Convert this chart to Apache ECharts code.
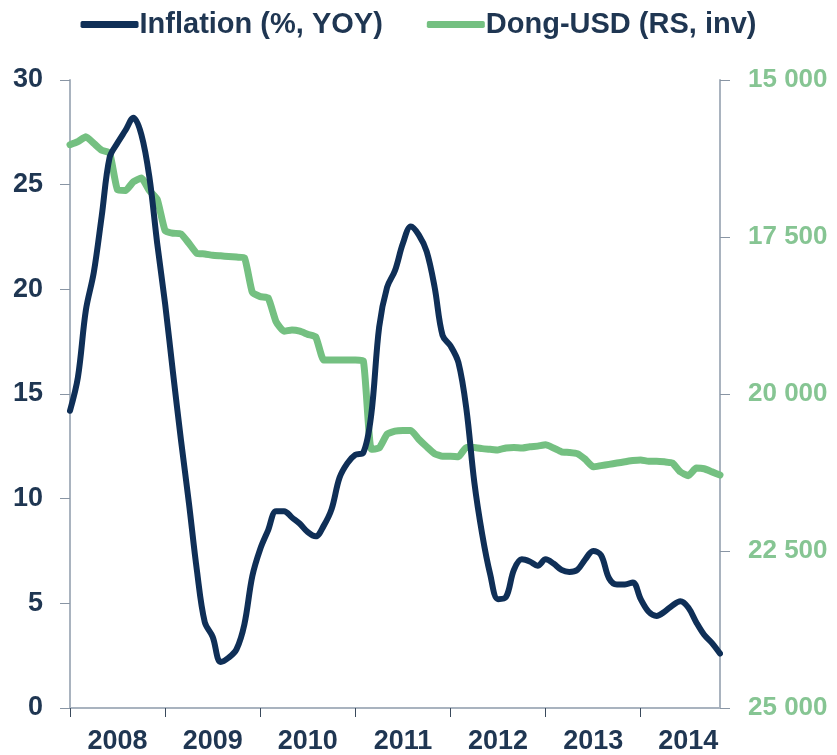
<!DOCTYPE html>
<html>
<head>
<meta charset="utf-8">
<script src="https://cdn.jsdelivr.net/npm/echarts@6/dist/echarts.min.js"></script>
<style>
  html, body { margin: 0; padding: 0; background: #fff; }
  #chart { width: 837px; height: 755px; }
</style>
</head>
<body>
<div id="chart"></div>
<script>
// monthly, Jan 2008 .. Nov 2014
var years = ['2008', '2009', '2010', '2011', '2012', '2013', '2014'];
var inflation = [
  14.2, 15.8, 19.0, 20.8, 23.5, 26.3, 27.0, 27.6, 28.2, 27.4, 25.4, 22.2,
  19.3, 16.0, 12.8, 9.8, 6.6, 4.1, 3.4, 2.2, 2.4, 2.8, 4.0, 6.3,
  7.6, 8.5, 9.4, 9.4, 9.1, 8.8, 8.4, 8.2, 8.7, 9.5, 11.0, 11.7,
  12.1, 12.2, 14.0, 18.2, 20.1, 20.9, 22.2, 23.0, 22.6, 21.8, 20.1, 17.8,
  17.3, 16.5, 14.3, 10.8, 8.3, 6.4, 5.2, 5.3, 6.6, 7.1, 7.0, 6.8,
  7.1, 6.9, 6.6, 6.5, 6.6, 7.1, 7.5, 7.3, 6.2, 5.9, 5.9, 6.0,
  5.2, 4.6, 4.4, 4.6, 4.9, 5.1, 4.8, 4.1, 3.5, 3.1, 2.6
];
var dongUsd = [
  16030, 15980, 15905, 16010, 16120, 16160, 16750, 16760, 16620, 16560, 16760, 16900,
  17400, 17440, 17450, 17600, 17760, 17770, 17790, 17800, 17810, 17820, 17830, 18380,
  18450, 18470, 18850, 19000, 18980, 19000, 19050, 19090, 19460, 19460, 19460, 19460,
  19460, 19470, 20880, 20860, 20640, 20590, 20580, 20580, 20720, 20840, 20950, 20990,
  20990, 21000, 20850, 20850, 20870, 20880, 20890, 20860, 20850, 20860, 20840, 20830,
  20810, 20860, 20920, 20930, 20950, 21040, 21160, 21140, 21120, 21100, 21080, 21060,
  21050, 21070, 21070, 21080, 21100, 21240, 21300, 21180, 21190, 21240, 21290
];
var months = [];
for (var i = 0; i < inflation.length; i++) {
  months.push(years[Math.floor(i / 12)] + '-' + (i % 12 + 1));
}

var navy = '#0f2f57';
var green = '#74c081';
var axisGrey = '#a9b3bf';
var textNavy = '#1f3652';
var font = '"Liberation Sans", Arial, sans-serif';

var myChart = echarts.init(document.getElementById('chart'));
var option = {
  animation: false,
  grid: { left: 70, right: 117, top: 80, bottom: 47, containLabel: false },
  legend: {
    top: 5,
    left: 'center',
    itemWidth: 58,
    itemHeight: 7,
    itemGap: 44,
    textStyle: { fontFamily: font, fontSize: 29, fontWeight: 'bold', color: textNavy, padding: [0, 0, 0, -4] },
    data: [
      { name: 'Inflation (%, YOY)', icon: 'roundRect', itemStyle: { color: navy } },
      { name: 'Dong-USD (RS, inv)', icon: 'roundRect', itemStyle: { color: green } }
    ]
  },
  xAxis: {
    type: 'category',
    data: months,
    boundaryGap: false,
    axisLine: { lineStyle: { color: axisGrey, width: 2 } },
    axisTick: {
      interval: function (idx) { return idx % 12 === 0; },
      length: 9,
      lineStyle: { color: '#3a4a5c', width: 1 }
    },
    axisLabel: {
      interval: function (idx) { return idx % 12 === 6; },
      formatter: function (v) { return v.slice(0, 4); },
      fontFamily: font, fontSize: 27, fontWeight: 'bold', color: textNavy, margin: 20
    },
    splitLine: { show: false }
  },
  yAxis: [
    {
      type: 'value', min: 0, max: 30, interval: 5,
      axisLine: { show: true, lineStyle: { color: axisGrey, width: 2 } },
      axisTick: { show: true, length: 10, lineStyle: { color: '#8995a4' } },
      axisLabel: { fontFamily: font, fontSize: 27, fontWeight: 'bold', color: textNavy, margin: 27 },
      splitLine: { show: false }
    },
    {
      type: 'value', min: 15000, max: 25000, interval: 2500, inverse: true,
      axisLine: { show: true, lineStyle: { color: axisGrey, width: 2 } },
      axisTick: { show: true, length: 10, lineStyle: { color: '#8995a4' } },
      axisLabel: {
        fontFamily: font, fontSize: 26, fontWeight: 'bold', color: '#86c593', margin: 28,
        formatter: function (v) { return String(v).replace(/(\d)(\d{3})$/, '$1 $2'); }
      },
      splitLine: { show: false }
    }
  ],
  series: [
    {
      name: 'Dong-USD (RS, inv)', type: 'line', yAxisIndex: 1,
      data: dongUsd, showSymbol: false, smooth: 0.15,
      lineStyle: { color: green, width: 7, cap: 'round', join: 'round' },
      itemStyle: { color: green }
    },
    {
      name: 'Inflation (%, YOY)', type: 'line', yAxisIndex: 0,
      data: inflation, showSymbol: false, smooth: 0.35,
      lineStyle: { color: navy, width: 6, cap: 'round', join: 'round' },
      itemStyle: { color: navy },
      z: 3
    }
  ]
};
myChart.setOption(option);
</script>
</body>
</html>
